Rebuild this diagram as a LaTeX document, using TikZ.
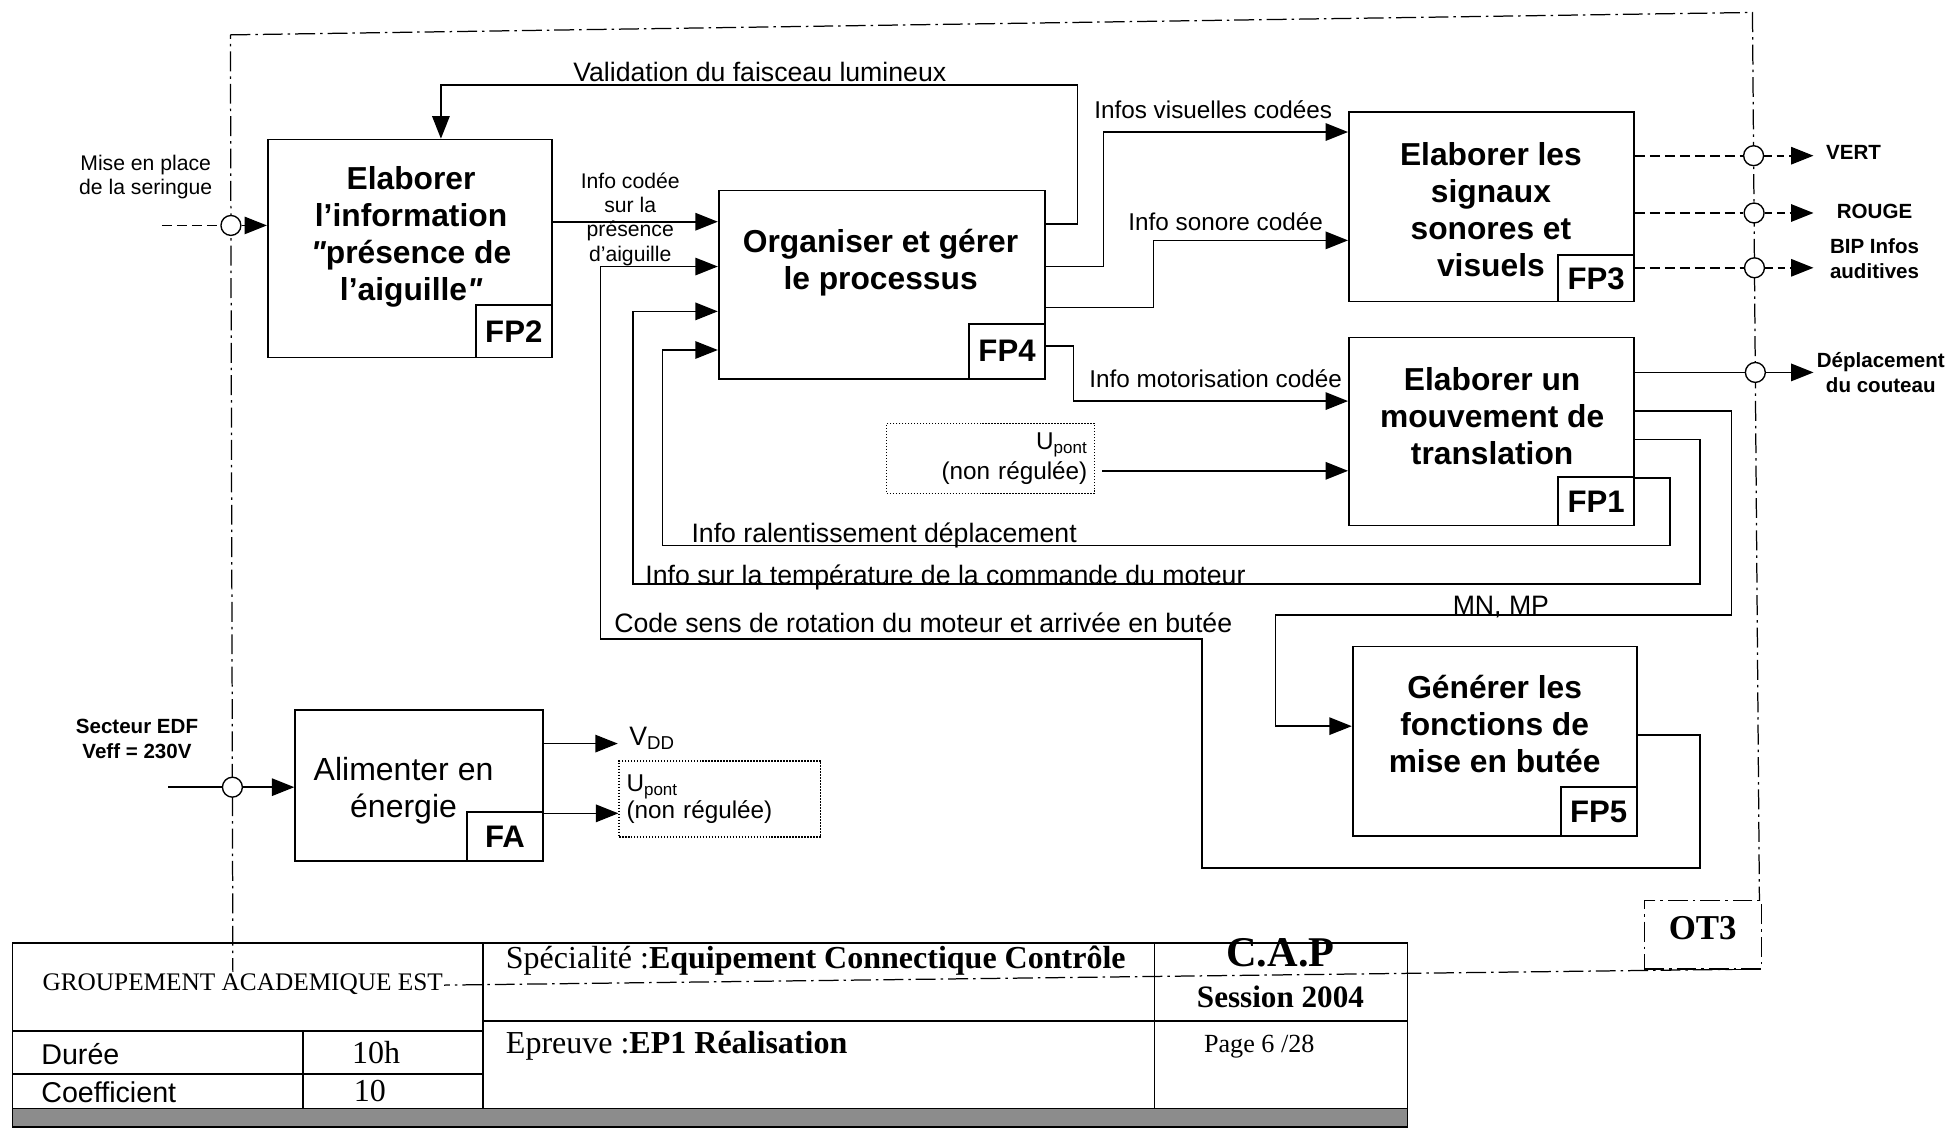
\documentclass[tikz,border=0pt]{standalone}
\usepackage{fontspec}
\setmainfont{Liberation Sans}
\newfontfamily\tms{Liberation Serif}
\newfontfamily\nolig[Ligatures=ResetAll]{Liberation Sans}
\usetikzlibrary{arrows.meta}
\newcommand\myfs[2]{\fontsize{#1}{#2}\selectfont}
\newcommand\dq{{\nolig\bfseries\itshape "}}
\begin{document}
\begin{tikzpicture}[x=1pt,y=-1pt,
  box/.style={draw,line width=1.4pt,inner sep=0pt},
  lbl/.style={draw,line width=1.4pt,anchor=south east,minimum width=61pt,minimum height=40pt,inner sep=0pt,font=\bfseries\myfs{25}{30}},
  btext/.style={align=center,inner sep=0pt,font=\bfseries\myfs{25.5}{29.7}},
  lab/.style={inner sep=0pt,font=\myfs{21.4}{24}},
  labs/.style={inner sep=0pt,font=\myfs{19.5}{23}},
  slab/.style={inner sep=0pt,align=center,font=\myfs{17}{19.5}},
  olab/.style={inner sep=0pt,align=center,font=\bfseries\myfs{16.5}{20}},
  con/.style={line width=1.3pt},
  arr/.style={con,-{Triangle[length=18pt,width=14pt]}},
  dsh/.style={dash pattern=on 8pt off 4pt},
  frm/.style={line width=1pt,dash pattern=on 16pt off 4pt on 2pt off 4pt},
  circ/.style={circle,draw,fill=white,minimum size=16pt,inner sep=0pt,line width=1.1pt},
  dotbox/.style={draw,line width=1pt,dash pattern=on 1.2pt off 1.2pt,inner xsep=6pt,inner ysep=0pt},
  tbl/.style={line width=1.4pt},
  ttxt/.style={inner sep=0pt,font=\tms\myfs{25.7}{30}}
]
\useasboundingbox (0,0) rectangle (1568,907);

% frame
\draw[frm] (185,28) -- (1407,10) -- (1413,778) -- (187,793) -- cycle;
\node[frm,draw,fill=white,minimum width=94pt,minimum height=55pt,inner sep=0pt] (ot3) at (1367,750.5) {};
\node[inner sep=0pt,font=\tms\bfseries\myfs{28}{30}] (ot3t) at (1367,745) {OT3};

% main boxes
\node[box,minimum width=228pt,minimum height=175pt] (fp2) at (329,199.5) {};
\node[lbl,minimum height=42pt] (fp2l) at (fp2.south east) {FP2};
\node[btext] (fp2t) at (330,190) {Elaborer\\l'information\\\dq présence de\\l'aiguille\dq};

\node[box,minimum width=262pt,minimum height=151pt] (fp4) at (708,228.5) {};
\node[lbl,minimum height=44pt] (fp4l) at (fp4.south east) {FP4};
\node[btext] (fp4t) at (707,211) {Organiser et gérer\\le processus};

\node[box,minimum width=229pt,minimum height=152pt] (fp3) at (1197.5,166) {};
\node[lbl,minimum height=37pt] (fp3l) at (fp3.south east) {FP3};
\node[btext] (fp3t) at (1197,168.5) {Elaborer les\\signaux\\sonores et\\visuels};

\node[box,minimum width=229pt,minimum height=151pt] (fp1) at (1197.5,346.5) {};
\node[lbl,minimum height=39pt] (fp1l) at (fp1.south east) {FP1};
\node[btext] (fp1t) at (1198,334.5) {Elaborer un\\mouvement de\\translation};

\node[box,minimum width=228pt,minimum height=152pt] (fp5) at (1200,595) {};
\node[lbl,minimum height=39pt] (fp5l) at (fp5.south east) {FP5};
\node[btext] (fp5t) at (1200,581.5) {Générer les\\fonctions de\\mise en butée};

\node[box,minimum width=199pt,minimum height=121pt] (fa) at (336.5,630.5) {};
\node[lbl,minimum height=39pt] (fal) at (fa.south east) {FA};
\node[align=center,inner sep=0pt,font=\myfs{25.7}{30}] (fat) at (324,635) {Alimenter en\\énergie};

% FP2 input
\coordinate (mep) at (130,181);
\node[circ] (c1) at (185.4,181) {};
\draw[con,dsh] (mep) -- (c1);
\draw[arr] (c1) -- (fp2.west |- c1);
\node[slab] (mept) at (117,142) {Mise en place\\de la seringue};

% validation
\draw[arr] (fp4.east |- 0,180) -| (865,68) -| (354,68 |- fp2.north);
\node[lab] (valt) at (610,58) {Validation du faisceau lumineux};

% info codée
\draw[arr] (fp2.east |- 0,178) -- (fp4.west |- 0,178);
\node[slab] (icod) at (506,176) {Info codée\\sur la\\présence\\d'aiguille};

% FP4 outputs
\draw[arr] (fp4.east |- 0,214) -| (886,106) -- (fp3.west |- 0,106);
\node[labs] (ivis) at (974,88) {Infos visuelles codées};
\draw[arr] (fp4.east |- 0,247) -| (926,193) -- (fp3.west |- 0,193);
\node[labs] (ison) at (984,178) {Info sonore codée};
\draw[arr] (fp4.east |- 0,278) -| (862,322) -- (fp1.west |- 0,322);
\node[labs] (imot) at (976,304) {Info motorisation codée};

% Upont -> FP1
\node[dotbox,align=right,text width=155pt,minimum height=56pt,font=\myfs{19.5}{24}] (up1) at (795.5,368) {U\textsubscript{pont}\\(non régulée)};
\draw[arr] (885,378) -- (fp1.west |- 0,378);

% feedback loops
\draw[arr] (fp1.east |- 0,384) -| (1341,438) -| (532,281) -- (fp4.west |- 0,281);
\node[lab,anchor=west] (iral) at (555,430) {Info ralentissement déplacement};
\draw[arr] (fp1.east |- 0,353) -| (1365,469) -| (508,250) -- (fp4.west |- 0,250);
\node[lab,anchor=base west] (item) at (518,469) {Info sur la température de la commande du moteur};
\draw[arr] (fp1.east |- 0,330) -| (1390,494) -| (1024,583) -- (fp5.west |- 0,583);
\node[lab] (mnmp) at (1205,487) {MN, MP};
\draw[arr] (fp5.east |- 0,590) -| (1365,697) -| (965,513) -| (482,214) -- (fp4.west |- 0,214);
\node[lab,anchor=west] (icode) at (493,500) {Code sens de rotation du moteur et arrivée en butée};

% FP3 outputs
\node[circ] (cv) at (1407.9,125) {};
\node[circ] (cr) at (1408.3,171) {};
\node[circ] (cb) at (1408.6,215) {};
\coordinate (tv) at (1456,125);
\coordinate (tr) at (1456,171);
\coordinate (tb) at (1456,215);
\draw[con,dsh] (fp3.east |- cv) -- (cv);
\draw[arr,dash pattern=on 6pt off 4pt] (cv) -- (tv);
\draw[con,dsh] (fp3.east |- cr) -- (cr);
\draw[arr,dash pattern=on 6pt off 4pt] (cr) -- (tr);
\draw[con,dsh] (fp3.east |- cb) -- (cb);
\draw[arr,dash pattern=on 6pt off 4pt] (cb) -- (tb);
\node[olab,anchor=west] (vert) at (1466,122) {VERT};
\node[olab] (rouge) at (1505,170) {ROUGE};
\node[olab] (bip) at (1505,208) {BIP Infos\\auditives};

% FP1 output
\node[circ] (cd) at (1409.3,299) {};
\coordinate (td) at (1456,299);
\draw[con] (fp1.east |- cd) -- (cd);
\draw[arr] (cd) -- (td);
\node[olab] (depl) at (1510,299) {Déplacement\\du couteau};

% FA
\coordinate (edf) at (135,632);
\node[circ] (c2) at (186.6,632) {};
\draw[con] (edf) -- (c2);
\draw[arr] (c2) -- (fa.west |- c2);
\node[olab] (edft) at (110,593) {Secteur EDF\\Veff = 230V};
\coordinate (tvdd) at (496,597);
\draw[arr] (fa.east |- tvdd) -- (tvdd);
\node[lab,anchor=west] (vdd) at (505,593) {V\textsubscript{DD}};
\node[dotbox,align=left,text width=150pt,minimum height=61pt,font=\myfs{19.5}{22}] (up2) at (578,641.5) {U\textsubscript{pont}\\(non régulée)};
\draw[arr] (fa.east |- 0,653) -- (up2.west |- 0,653);

% title block
\fill[black!45] (10,890) rectangle (1130,905);
\draw[tbl] (10,757) rectangle (1130,905);
\draw[tbl] (10,828) -- (388,828) (10,862) -- (388,862) (10,890) -- (1130,890)
  (243,828) -- (243,890) (388,757) -- (388,890) (927,757) -- (927,890) (388,820) -- (1130,820);
\node[inner sep=1pt,fill=white,anchor=west,font=\tms\myfs{20.3}{22}] (grp) at (33,790) {GROUPEMENT ACADEMIQUE EST};
\node[inner sep=0pt,anchor=west,font=\myfs{23}{24}] (dur) at (33,846) {Durée};
\node[inner sep=0pt,anchor=west,font=\myfs{23}{24}] (coef) at (33,877) {Coefficient};
\node[ttxt] (dh) at (302,845) {10h};
\node[ttxt] (cf) at (297,876) {10};
\node[ttxt,anchor=west] (spe) at (406,771) {Spécialité :\textbf{Equipement Connectique Contrôle}};
\node[ttxt,anchor=west] (epr) at (406,840) {Epreuve :\textbf{EP1 Réalisation}};
\node[inner sep=0pt,font=\tms\bfseries\myfs{34}{36}] (cap) at (1028,765) {C.A.P};
\node[ttxt,font=\tms\bfseries\myfs{25}{30}] (ses) at (1028,800) {Session 2004};
\node[inner sep=0pt,font=\tms\myfs{21}{24}] (pag) at (1011,840) {Page 6 /28};
\end{tikzpicture}
\end{document}
